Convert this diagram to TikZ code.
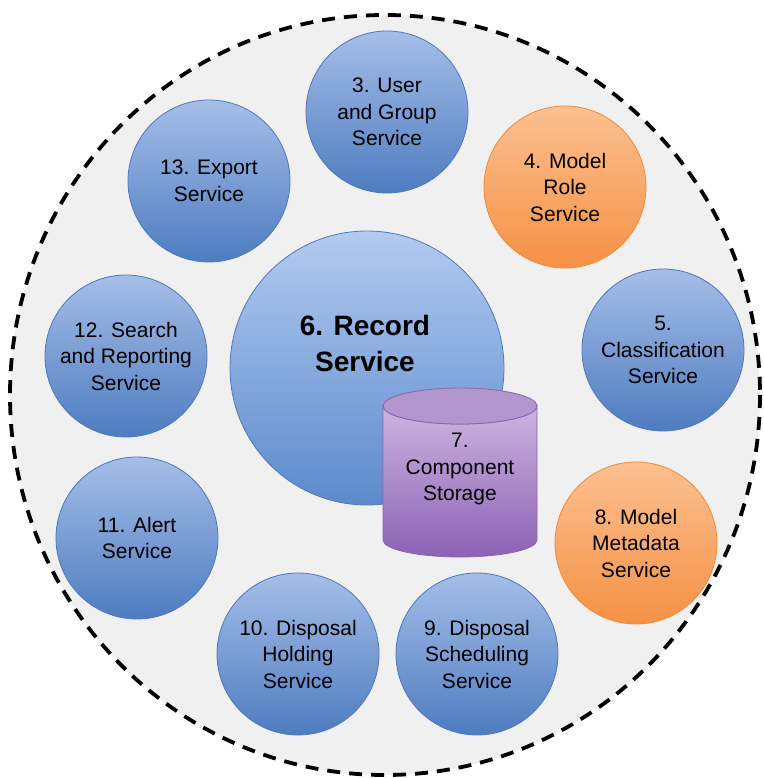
\documentclass[tikz,border=0pt]{standalone}
\usepackage{fontspec}
\setmainfont{Liberation Sans}
\definecolor{bgfill}{RGB}{240,240,240}
\definecolor{bluetop}{RGB}{165,190,232}
\definecolor{bluebot}{RGB}{78,124,192}
\definecolor{blueedge}{RGB}{80,120,190}
\definecolor{rectop}{RGB}{178,202,240}
\definecolor{recbot}{RGB}{92,138,204}
\definecolor{ortop}{RGB}{252,192,145}
\definecolor{orbot}{RGB}{245,145,68}
\definecolor{oredge}{RGB}{238,140,60}
\definecolor{cyltop}{RGB}{205,180,224}
\definecolor{cylbot}{RGB}{140,98,180}
\definecolor{cyllid}{RGB}{178,150,205}
\definecolor{cyledge}{RGB}{140,100,178}
\tikzset{
  svc/.style={circle, minimum size=162pt, inner sep=0pt, align=center,
    font=\fontsize{21}{26.5}\selectfont, draw=blueedge, line width=0.8pt,
    top color=bluetop, bottom color=bluebot},
  orsvc/.style={svc, draw=oredge, top color=ortop, bottom color=orbot},
  border/.style={draw=black, line width=3.8pt, dash pattern=on 13pt off 9pt},
}
\begin{document}
\begin{tikzpicture}[x=1pt,y=-1pt]
\useasboundingbox (0,0) rectangle (763,778);
% background
\fill[bgfill] (385,395) ellipse [x radius=375, y radius=380];
\draw[border] (385,395) ellipse [x radius=375, y radius=380];
% services
\node[svc]   (s3)  at (387,112) {3. User\\and Group\\Service};
\node[orsvc] (s4)  at (565,187) {4. Model\\Role\\Service};
\node[svc]   (s5)  at (663,350) {5.\\Classification\\Service};
\node[orsvc] (s8)  at (636,543) {8. Model\\Metadata\\Service};
\node[svc]   (s9)  at (477,654) {9. Disposal\\Scheduling\\Service};
\node[svc]   (s10) at (298,654) {10. Disposal\\Holding\\Service};
\node[svc]   (s11) at (137,538) {11. Alert\\Service};
\node[svc]   (s12) at (126,356) {12. Search\\and Reporting\\Service};
\node[svc]   (s13) at (209,181) {13. Export\\Service};
% record service
\node[circle, minimum size=274pt, inner sep=0pt, draw=blueedge, line width=0.8pt,
      top color=rectop, bottom color=recbot] (s6) at (367,368) {};
\node[align=center, font=\fontsize{28}{36}\bfseries] (s6t) at (365,343) {6. Record\\Service};
% component storage cylinder
\shade[top color=cyltop, bottom color=cylbot, draw=cyledge, line width=0.8pt]
  (383,406) -- (383,540) arc[start angle=180, end angle=0, x radius=77, y radius=17]
  -- (537,406) arc[start angle=0, end angle=180, x radius=77, y radius=18] -- cycle;
\filldraw[fill=cyllid, draw=cyledge, line width=0.8pt] (460,406) ellipse [x radius=77, y radius=18];
\node[align=center, font=\fontsize{21}{26.5}\selectfont] (s7) at (460,469) {7.\\Component\\Storage};
\end{tikzpicture}
\end{document}
